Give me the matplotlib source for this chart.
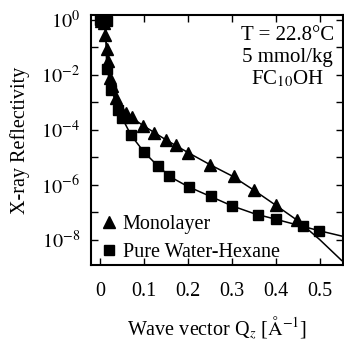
import numpy as np
import matplotlib
matplotlib.use("Agg")
import matplotlib.pyplot as plt
from matplotlib.ticker import FixedLocator, FuncFormatter

plt.rcParams['font.family'] = ['Liberation Serif', 'DejaVu Serif']
plt.rcParams['mathtext.fontset'] = 'stix'

# Monolayer (triangles): Qz [1/A], log10 reflectivity
mono_q = [0.002, 0.008, 0.011, 0.014, 0.018, 0.021, 0.027, 0.035, 0.045, 0.058,
          0.073, 0.097, 0.123, 0.149, 0.173, 0.200, 0.250, 0.305, 0.350, 0.401, 0.449]
mono_logR = [-0.02, -0.10, -0.55, -1.05, -1.50, -2.10, -2.40, -2.85, -3.20, -3.40,
             -3.55, -3.85, -4.13, -4.37, -4.56, -4.83, -5.27, -5.69, -6.21, -6.75, -7.30]

# Pure water-hexane (squares)
pure_q = [0.000, 0.007, 0.016, 0.014, 0.025, 0.041, 0.050, 0.070, 0.100, 0.131,
          0.157, 0.202, 0.252, 0.300, 0.359, 0.401, 0.462, 0.499]
pure_logR = [0.00, -0.02, -0.05, -1.79, -2.55, -3.28, -3.58, -4.20, -4.82, -5.33,
             -5.69, -6.08, -6.42, -6.77, -7.10, -7.26, -7.52, -7.68]

# Fitted curves
mono_fit_q = [0.0, 0.010, 0.012, 0.016, 0.022, 0.030, 0.040, 0.055, 0.075, 0.100,
              0.150, 0.200, 0.250, 0.300, 0.350, 0.400, 0.450, 0.500, 0.550]
mono_fit_logR = [0.0, -0.05, -0.60, -1.30, -2.00, -2.60, -3.00, -3.35, -3.60, -3.87,
                 -4.37, -4.83, -5.27, -5.68, -6.20, -6.75, -7.31, -8.00, -8.76]
pure_fit_q = [0.0, 0.012, 0.014, 0.020, 0.030, 0.040, 0.050, 0.070, 0.100, 0.130,
              0.160, 0.200, 0.250, 0.300, 0.350, 0.400, 0.450, 0.500, 0.550]
pure_fit_logR = [0.0, -0.10, -1.50, -2.20, -2.75, -3.20, -3.58, -4.20, -4.82, -5.30,
                 -5.72, -6.07, -6.42, -6.77, -7.05, -7.26, -7.47, -7.68, -7.87]

x_ticks = [0, 0.1, 0.2, 0.3, 0.4, 0.5]
x_ticklabels = ["0", "0.1", "0.2", "0.3", "0.4", "0.5"]

fig = plt.figure(figsize=(3.44, 3.43), dpi=100)
ax = fig.add_axes([0.265, 0.227, 0.732, 0.729])

ax.plot(mono_fit_q, 10.0 ** np.array(mono_fit_logR), color='black', lw=1.1, zorder=2)
ax.plot(pure_fit_q, 10.0 ** np.array(pure_fit_logR), color='black', lw=1.1, zorder=2)
ax.plot(mono_q, 10.0 ** np.array(mono_logR), linestyle='none', marker='^', ms=8.5,
        color='black', label='Monolayer', zorder=3)
ax.plot(pure_q, 10.0 ** np.array(pure_logR), linestyle='none', marker='s', ms=7.5,
        color='black', label='Pure Water-Hexane', zorder=3)

ax.set_yscale('log')
ax.set_xlim(-0.021, 0.553)
ax.set_ylim(10 ** -8.93, 10 ** 0.18)

ax.xaxis.set_major_locator(FixedLocator(x_ticks))
ax.set_xticklabels(x_ticklabels)
decades = [10.0 ** k for k in range(-9, 1)]
ax.yaxis.set_major_locator(FixedLocator(decades))
ax.yaxis.set_minor_locator(FixedLocator([]))

def yfmt(v, pos):
    k = int(round(np.log10(v)))
    if k % 2 == 0 and k >= -8:
        return r"$10^{%d}$" % k
    return ""
ax.yaxis.set_major_formatter(FuncFormatter(yfmt))

ax.tick_params(axis='both', which='major', direction='in', length=5, width=1,
               top=True, right=True, labelsize=14.5)
ax.tick_params(axis='x', pad=12)
ax.tick_params(axis='y', pad=8)
for s in ax.spines.values():
    s.set_linewidth(1.5)

ax.set_xlabel(r"Wave vector Q$_z$ [$\mathrm{\AA}^{-1}$]", fontsize=14.5, labelpad=10)
ax.set_ylabel("X-ray Reflectivity", fontsize=14.5, labelpad=8)

ax.text(0.78, 0.92, "T = 22.8°C", transform=ax.transAxes, ha='center', va='center', fontsize=15)
ax.text(0.78, 0.832, "5 mmol/kg", transform=ax.transAxes, ha='center', va='center', fontsize=15)
ax.text(0.78, 0.744, r"FC$_{10}$OH", transform=ax.transAxes, ha='center', va='center', fontsize=15)

ax.legend(loc='lower left', bbox_to_anchor=(-0.03, -0.045), frameon=False, fontsize=14.5,
          handletextpad=0.15, handlelength=1.1, labelspacing=0.45, borderaxespad=0.3)

fig.savefig("out.png", dpi=100)
